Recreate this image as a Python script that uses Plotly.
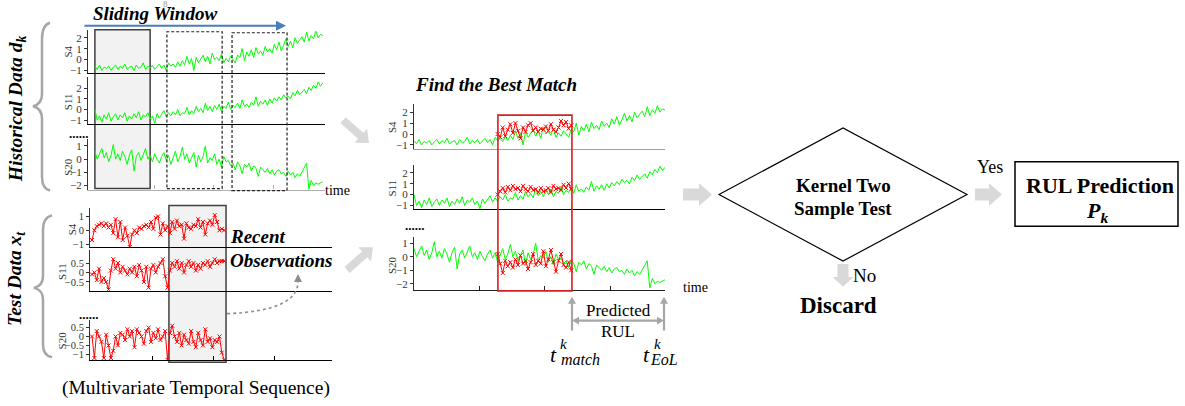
import plotly.graph_objects as go

W, H = 1185, 406
SERIF = "Liberation Serif, Times New Roman, Times, serif"

# ---------------- data ----------------
hist_s4 = [
    -0.6, -0.9, -0.5, -1.0, -0.7, -0.8, -0.6, -1.0, -0.7, -0.5, -0.9, -0.6, -0.8, -0.4, -0.9, -0.7, -0.6, -1.0, -0.5, -0.8, -0.7, -0.3, -0.9, -0.6, -0.8,
    -0.5, -0.9, -0.6, -0.4, -0.8, -0.5, -1.0, -0.3, -0.6, -0.4, -0.7, -0.2, -0.6, -0.1, -0.5, 0.3, -0.4, 0.1, -1.0, 0.2,
    -0.3, 0.0, 0.4, -0.2, 0.3, -0.4, 0.6, 0.0, 0.2, -0.1, 0.5, -0.3, 0.1, -0.2, 0.3,
    0.0, -0.3, 0.4, 0.2, 1.0, -0.1, 0.7, 0.3, 0.9, 0.2, 1.1, 0.5, 0.8, 0.4, 1.2, 0.7, 1.0, 0.6, 1.4, 0.9,
    1.6, 0.8, 1.3, 1.9, 1.2, 1.7, 1.1, 2.0, 1.5, 1.8, 2.1, 1.6, 2.5, 1.7, 2.2, 1.9, 2.6, 2.0, 2.3, 2.2,
]
hist_s11 = [
    0.0, -1.0, -0.6, -1.2, -0.5, -0.9, -0.3, -1.1, -0.7, -0.4, -1.0, -0.5, -0.8, -0.3, -1.1, -0.6, -0.9, -0.4, -0.8, -0.2, -1.0, -0.5, -0.7, -0.3, -0.9,
    -0.6, -1.3, -0.4, -0.8, -0.5, -0.1, -0.7, -0.3, -0.6, -0.2, -0.5, 0.0, -0.6, -0.3, -0.4, 0.2, -0.5, -0.1, -0.4, 0.3,
    -0.2, 0.1, -0.3, 0.6, -0.1, 0.3, -0.2, 0.4, 0.0, 0.5, -0.2, 0.3, 0.1, 0.7, 0.0,
    0.4, 0.2, 0.6, 0.1, 0.9, 0.3, 0.5, 0.2, 0.7, 0.4, 1.2, 0.3, 0.8, 0.5, 0.9, 0.4, 1.0, 0.6, 1.1, 0.8,
    1.2, 0.9, 1.4, 1.1, 1.3, 1.0, 1.6, 1.3, 1.8, 1.4, 1.7, 1.9, 1.5, 2.1, 1.8, 2.3, 2.0, 2.6, 2.2, 2.5,
]
hist_s20 = [
    0.6, 0.0, 0.4, 0.8, 0.1, 0.5, -0.2, 0.3, 1.1, 0.0, 0.4, -0.1, 0.6, 0.2, -0.4, 0.3, 0.7, -0.9, 0.2, 0.5, -0.1, 0.4, 0.8, 0.0, 0.3,
    -0.2, 0.4, 0.0, -0.3, 0.2, 0.5, -0.1, 0.3, -0.4, 0.1, 0.6, -0.2, 0.2, 0.9, 0.0, 0.4, -0.3, 0.1, 0.5, -0.6,
    0.3, -0.2, 0.2, 1.0, -0.3, 0.1, -0.1, 0.4, -0.4, 0.0, -0.6, 0.2, -0.2, -0.1, -0.5,
    -0.3, -0.8, -0.2, -0.5, -1.1, -0.4, -0.6, -0.3, -0.9, -0.5, -0.7, -1.3, -0.6, -0.8, -1.0, -0.7, -1.1, -0.8, -1.2, -0.9,
    -0.8, -1.1, -1.0, -1.3, -0.9, -1.2, -1.0, -1.4, -1.1, -1.3, -1.0, -0.7, -0.3, -2.3, -1.6, -2.0, -1.8, -1.9, -1.8, -1.7,
]
test_s4 = [
    -0.7, 0.0, 0.3, 0.4, 0.5, 0.3, 0.5, 0.2, 0.4, -0.2, 0.8, -0.5, 0.6, -0.7, 0.2, -0.4, -1.2, -0.3, 0.0, -0.2, 0.2, 0.1, 0.3, 0.4, 0.2, 0.6, 0.1, 0.9, 1.0, -0.3,
    0.5, 0.0, 0.3, -0.2, 0.6, 0.1, 0.7, 0.3, 0.4, -0.6, 0.5, 0.2, 0.1, 0.4, 0.3, 0.8, 0.2, 0.6, -0.3, 0.5, 0.7, 0.4, 1.1, 0.6, 0.0, 0.1, 0.0,
]
test_s11 = [
    -0.1, 0.0, -0.4, 0.2, -0.5, -0.3, -0.5, -0.9, 0.1, 0.7, 0.2, 0.5, 0.0, 0.3, 0.1, -0.1, 0.2, 0.0, 0.3, -0.2, 0.4, 0.1, -0.5, 0.3, -0.8, 0.2, 0.4, 0.0, 0.3, 0.5,
    0.7, -0.2, -0.8, 0.1, 0.5, 0.3, 0.6, 0.2, 0.5, 0.0, 0.4, 0.6, 0.3, 0.5, 0.1, 0.4, 0.2, 0.5, 0.4, 0.6, 0.3, 0.5, 0.7, 0.5, 0.6, 0.6, 0.6,
]
test_s20 = [
    0.0, -1.2, 0.3, 0.0, -0.3, -1.2, 0.1, -0.5, -1.2, -0.8, 0.0, -0.5, 0.2, 0.1, -0.2, 0.4, 0.0, 0.3, -0.6, 0.4, 0.2, 0.0, -0.4, 0.3, 0.5, -0.3, 0.2, -0.1, 0.4, -0.2,
    0.0, 0.3, -1.3, 0.2, 0.6, 0.0, -0.3, 0.2, -0.5, 0.1, -0.2, -0.4, 0.3, -0.3, -0.6, 0.2, -0.2, -0.5, 0.4, -0.3, -0.1, -0.6, -0.2, -0.3, 0.0, -0.9, -1.3,
]
match_start = 33
match_s4 = [0.0, -0.3, 0.6, -0.2, 0.4, 0.9, 0.1, 1.0, 0.3, -0.4, 0.6, 0.2, 0.8, 1.0, 0.3,
            0.6, 0.2, 0.5, 0.4, 0.7, 0.3, 0.9, 0.4, 0.2, 0.6, 1.2, 0.8, 1.1, 0.5, 0.8]
match_s11 = [0.0, 0.3, 0.6, 0.2, 0.7, 0.4, 0.8, 0.5, 0.6, 0.3, 0.8, 0.5, 0.3, 0.7, 0.4,
             0.5, 0.2, 0.6, 0.3, 0.4, 0.6, 0.2, 0.8, 0.5, 0.6, 0.4, 0.9, 0.6, 1.0, 0.5]
match_s20 = [0.2, -0.5, -1.2, -0.3, -0.7, -0.4, -0.8, -0.2, -0.6, 0.1, -0.5, -0.3, -0.9, -0.4, 0.2,
             -0.6, -0.3, -0.5, 0.4, -0.7, -0.2, 0.5, -0.4, -1.1, -0.3, 0.2, -0.6, -0.8, -0.4, -1.0]

sensor_names = ["S4", "S11", "S20"]
hist_ticks = [[-1, 0, 1, 2], [-1, 0, 1, 2], [-2, -1, 0, 1]]
test_ticks = [[-1, 0, 1], [-0.5, 0, 0.5], [-1, -0.5, 0, 0.5]]
time_ticks = [25.8, 51.6, 77.4]

# window positions (time index)
hist_window = (0, 24)
slide_windows = [(31.3, 55.3), (59.6, 83.5)]
test_window = (32.6, 56.8)
match_window = (33.1, 62.3)


# ---------------- helpers ----------------
def X(px):
    return px / W


def Y(py):
    return 1 - py / H


fig = go.Figure()
layout = {}

GREEN = "#00ff00"
RED = "#ff0000"

# panel definitions: (x-domain px, y-domain px (top,bottom), yrange, bottom line color, time ticks?, xrange)
panels = [
    # historical
    ((88, 325), (30, 74), [-1.27, 2.73], "#000000", False, [-3, 100]),
    ((88, 325), (78, 125), [-1.375, 3.03], "#000000", False, [-3, 100]),
    ((88, 325), (140, 191), [-2.3, 1.525], "#b0b0b0", True, [-3, 100]),
    # test
    ((90, 332), (210, 249), [-1.21, 1.57], "#000000", False, [-0.85, 101.7]),
    ((90, 332), (252, 293), [-0.97, 1.18], "#000000", False, [-0.85, 101.7]),
    ((90, 332), (322, 363), [-1.33, 0.94], "#000000", True, [-0.85, 101.7]),
    # middle (matching)
    ((414, 665), (105, 150), [-1.36, 2.73], "#a0a0a0", False, [0, 99]),
    ((414, 665), (166, 211), [-1.36, 2.73], "#000000", False, [0, 99]),
    ((414, 665), (239, 292), [-2.44, 1.44], "#202020", True, [0, 99]),
]
tickvals_all = hist_ticks + test_ticks + hist_ticks

for i, (xd, yd, yr, bcol, tt, xr) in enumerate(panels):
    n = i + 1
    xk = "xaxis" if n == 1 else f"xaxis{n}"
    yk = "yaxis" if n == 1 else f"yaxis{n}"
    layout[xk] = dict(
        domain=[X(xd[0]), X(xd[1])], range=xr, anchor=f"y{'' if n == 1 else n}",
        showline=True, linecolor=bcol, linewidth=1.2, showgrid=False, zeroline=False,
        showticklabels=False, ticks="inside" if tt else "", ticklen=4, tickcolor=bcol,
        tickvals=time_ticks if tt else None, fixedrange=True,
    )
    layout[yk] = dict(
        domain=[Y(yd[1]), Y(yd[0])], range=yr, anchor=f"x{'' if n == 1 else n}",
        showline=True, linecolor="#333333", linewidth=1, showgrid=False, zeroline=False,
        ticks="outside", ticklen=3, tickcolor="#333333", tickvals=tickvals_all[i],
        tickfont=dict(family=SERIF, size=11 if i < 3 or i > 5 else 10.5, color="#333333"), fixedrange=True,
    )

hist_series = [hist_s4, hist_s11, hist_s20]
test_series = [test_s4, test_s11, test_s20]
match_series = [match_s4, match_s11, match_s20]


def ax(n):
    return ("x" if n == 1 else f"x{n}"), ("y" if n == 1 else f"y{n}")


for k in range(3):
    xa, ya = ax(k + 1)
    fig.add_trace(go.Scatter(x=list(range(len(hist_series[k]))), y=hist_series[k], mode="lines",
                             line=dict(color=GREEN, width=1), xaxis=xa, yaxis=ya, hoverinfo="skip"))
    xa, ya = ax(k + 4)
    fig.add_trace(go.Scatter(x=list(range(len(test_series[k]))), y=test_series[k], mode="lines+markers",
                             line=dict(color=RED, width=1),
                             marker=dict(symbol="x-thin", size=4, line=dict(width=1, color=RED)),
                             xaxis=xa, yaxis=ya, hoverinfo="skip"))
    xa, ya = ax(k + 7)
    fig.add_trace(go.Scatter(x=list(range(len(hist_series[k]))), y=hist_series[k], mode="lines",
                             line=dict(color=GREEN, width=1), xaxis=xa, yaxis=ya, hoverinfo="skip"))
    fig.add_trace(go.Scatter(x=[match_start + j for j in range(len(match_series[k]))], y=match_series[k],
                             mode="lines+markers", line=dict(color=RED, width=1),
                             marker=dict(symbol="x-thin", size=4, line=dict(width=1, color=RED)),
                             xaxis=xa, yaxis=ya, hoverinfo="skip"))

shapes = []
# window boxes
shapes.append(dict(type="rect", xref="x", yref="paper", x0=hist_window[0], x1=hist_window[1],
                   y0=Y(190), y1=Y(30), fillcolor="#f2f2f2", line=dict(color="#404040", width=1.5), layer="below"))
for (a, b), (t, bt) in zip(slide_windows, [(32, 190), (33, 192)]):
    shapes.append(dict(type="rect", xref="x", yref="paper", x0=a, x1=b, y0=Y(bt), y1=Y(t),
                       line=dict(color="#222222", width=1.2, dash="3px,2px"), layer="above"))
shapes.append(dict(type="rect", xref="x4", yref="paper", x0=test_window[0], x1=test_window[1],
                   y0=Y(365), y1=Y(207), fillcolor="#f2f2f2", line=dict(color="#404040", width=1.5), layer="below"))
shapes.append(dict(type="rect", xref="x7", yref="paper", x0=match_window[0], x1=match_window[1],
                   y0=Y(293), y1=Y(116), line=dict(color="#d42020", width=1.6), layer="above"))


def path_px(cmds):
    s = ""
    for c, pts in cmds:
        s += c + " " + " ".join(f"{X(p[0]):.5f},{Y(p[1]):.5f}" for p in pts) + " "
    return s.strip()


def poly(points, color):
    cmds = [("M", [points[0]])] + [("L", [p]) for p in points[1:]] + [("Z", [])]
    shapes.append(dict(type="path", xref="paper", yref="paper", path=path_px(cmds),
                       fillcolor=color, line=dict(width=0), layer="above"))


def block_arrow(x0, y0, x1, y1, sw, hw, hl, color="#d9d9d9"):
    dx, dy = x1 - x0, y1 - y0
    L = (dx * dx + dy * dy) ** 0.5
    ux, uy = dx / L, dy / L
    nx, ny = -uy, ux
    bx, by = x1 - ux * hl, y1 - uy * hl
    pts = [
        (x0 + nx * sw / 2, y0 + ny * sw / 2),
        (bx + nx * sw / 2, by + ny * sw / 2),
        (bx + nx * hw / 2, by + ny * hw / 2),
        (x1, y1),
        (bx - nx * hw / 2, by - ny * hw / 2),
        (bx - nx * sw / 2, by - ny * sw / 2),
        (x0 - nx * sw / 2, y0 - ny * sw / 2),
    ]
    poly(pts, color)


block_arrow(343, 121, 369, 144, 8, 19, 11)
block_arrow(347, 272, 373, 249, 8, 19, 11)
block_arrow(683, 196, 712, 196, 12, 23, 13)
block_arrow(975, 196, 1002, 196, 12, 23, 13)
block_arrow(843, 266, 843, 289, 11, 21, 10)


def line_path(cmds, color, width, dash="solid"):
    shapes.append(dict(type="path", xref="paper", yref="paper", path=path_px(cmds),
                       line=dict(color=color, width=width, dash=dash), layer="above"))


# braces
line_path([("M", [(50, 23)]), ("Q", [(42, 25), (42, 40)]), ("L", [(42, 95)]), ("Q", [(42, 105), (33, 107)]),
           ("Q", [(42, 109), (42, 120)]), ("L", [(42, 178)]), ("Q", [(42, 190), (50, 192)])], "#a6a6a6", 2.5)
line_path([("M", [(52, 217)]), ("Q", [(43, 219), (43, 232)]), ("L", [(43, 278)]), ("Q", [(43, 288), (34, 290)]),
           ("Q", [(43, 292), (43, 302)]), ("L", [(43, 347)]), ("Q", [(43, 358), (52, 360)])], "#a6a6a6", 2.5)

# dotted curved arrow
line_path([("M", [(227, 316)]), ("Q", [(299, 313), (298, 283)])], "#8c8c8c", 1.6, "dot")
poly([(294, 284), (298, 276), (302, 284)], "#8c8c8c")

# predicted RUL arrows
for xp in (572, 664):
    line_path([("M", [(xp, 333)]), ("L", [(xp, 305)])], "#a6a6a6", 2.2)
    poly([(xp - 4, 306), (xp, 299), (xp + 4, 306)], "#a6a6a6")
line_path([("M", [(578, 323)]), ("L", [(658, 323)])], "#a6a6a6", 2.2)
poly([(579, 319), (572, 323), (579, 327)], "#a6a6a6")
poly([(657, 319), (664, 323), (657, 327)], "#a6a6a6")

# diamond and result box
line_path([("M", [(719, 196)]), ("L", [(843, 129)]), ("L", [(967, 196)]), ("L", [(843, 263)]), ("Z", [])],
          "#000000", 1.2)
shapes.append(dict(type="rect", xref="paper", yref="paper", x0=X(1015), x1=X(1178), y0=Y(228), y1=Y(163),
                   line=dict(color="#000000", width=1.5), layer="above"))

annotations = []


def ann(text, x, y, size, color="#000000", angle=0, xanchor="center", yanchor="middle", family=SERIF):
    annotations.append(dict(text=text, x=X(x), y=Y(y), xref="paper", yref="paper", showarrow=False,
                            font=dict(family=family, size=size, color=color), textangle=angle,
                            xanchor=xanchor, yanchor=yanchor))


# sliding window arrow
annotations.append(dict(x=X(286), y=Y(26), xref="paper", yref="paper", ax=-203, ay=0, axref="pixel",
                        ayref="pixel", text="", showarrow=True, arrowhead=2, arrowsize=1, arrowwidth=2,
                        arrowcolor="#4a7ebb", standoff=0, startstandoff=0))
ann("<b><i>Sliding Window</i></b>", 155, 14, 19)
ann("8", 165, 4, 9, color="#999999")

# sensor labels
for name, (xl, yl) in zip(sensor_names * 3,
                          [(68, 52), (68, 103), (68, 168), (72, 231), (62, 273), (62, 343),
                           (392, 128), (392, 190), (392, 267)]):
    ann(name, xl, yl, 11, color="#333333", angle=-90)

ann("<b><i>Historical Data d<sub>k</sub></i></b>", 17, 110, 19.5, angle=-90)
ann("<b><i>Test Data x<sub>t</sub></i></b>", 16, 281, 19.5, angle=-90)
ann("<b>......</b>", 79, 134, 13)
ann("<b>......</b>", 89, 317, 13)
ann("<b>......</b>", 415, 227, 13)
ann("time", 337, 192, 14)
ann("time", 695, 290, 14)
ann("<b><i>Recent</i></b>", 228, 238, 19, xanchor="left")
ann("<b><i>Observations</i></b>", 228, 262, 19, xanchor="left")
ann("(Multivariate Temporal Sequence)", 196, 391, 19.5)
ann("<b><i>Find the Best Match</i></b>", 413, 85, 19, xanchor="left")
ann("Predicted", 618, 313, 17)
ann("RUL", 618, 334, 17)
ann("<i>t</i>", 553, 357, 22, xanchor="center")
ann("<i>k</i>", 563, 347, 15)
ann("<i>match</i>", 580, 362, 16)
ann("<i>t</i>", 647, 357, 22, xanchor="center")
ann("<i>k</i>", 657, 347, 15)
ann("<i>EoL</i>", 664, 362, 16)
ann("<b>Kernel Two</b>", 843, 187, 19)
ann("<b>Sample Test</b>", 843, 210, 19)
ann("Yes", 990, 168, 18)
ann("No", 864, 278, 19)
ann("<b>Discard</b>", 838, 308, 23)
ann("<b>RUL Prediction</b>", 1100, 187, 22)
ann("<b><i>P<sub>k</sub></i></b>", 1097, 214, 22)

fig.update_layout(
    width=W, height=H, autosize=False, margin=dict(l=0, r=0, t=0, b=0),
    paper_bgcolor="white", plot_bgcolor="rgba(0,0,0,0)", showlegend=False,
    font=dict(family=SERIF),
    shapes=shapes, annotations=annotations, **layout,
)
fig.write_html("out.html", config={"displayModeBar": False},
               post_script="document.body.style.margin='0px';document.body.style.padding='0px';")
